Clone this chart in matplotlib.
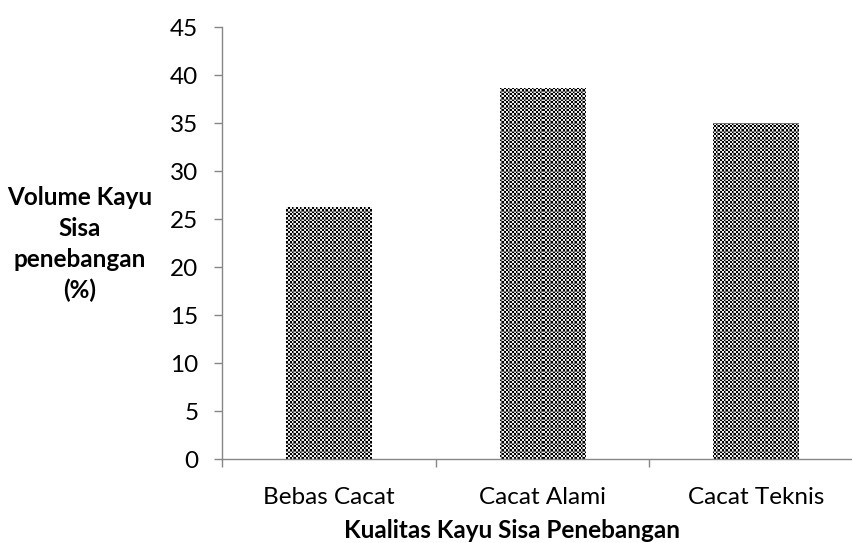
import numpy as np
import matplotlib
matplotlib.use("Agg")
import matplotlib.pyplot as plt

categories = ["Bebas Cacat", "Cacat Alami", "Cacat Teknis"]
volumes = [26.2, 38.6, 35.0]
y_ticks = [0, 5, 10, 15, 20, 25, 30, 35, 40, 45]

plt.rcParams['font.family'] = ['Lato', 'DejaVu Sans']

W, H = 852, 543
fig = plt.figure(figsize=(W / 100, H / 100), dpi=100)
left, bottom, top = 222 / W, (H - 459) / H, (H - 27) / H
ax_w = 640.5 / W
ax = fig.add_axes([left, bottom, ax_w, top - bottom])

x = np.arange(len(categories))
bars = ax.bar(x, volumes, width=0.4, facecolor='none', edgecolor='none')

# fine dithered checkerboard fill for the bars
nx, ny = 641, 432
rows = np.arange(ny)[:, None]
cols = np.arange(nx)[None, :]
pat = ((rows // 2 + cols // 2) % 2).astype(float) * 0.92
pat[np.arange(ny) % 8 == 7, :] = 0.45
pat[:, np.arange(nx) % 8 == 7] = 0.45
for b in bars:
    im = ax.imshow(pat, cmap='gray', vmin=0, vmax=1, interpolation='nearest',
                   extent=(-0.5, len(categories) - 0.5, 0, 45), aspect='auto',
                   origin='lower', zorder=2)
    im.set_clip_path(b)

ax.set_xlim(-0.5, len(categories) - 0.5)
ax.set_ylim(0, 45)

for s in ['top', 'right']:
    ax.spines[s].set_visible(False)
for s in ['left', 'bottom']:
    ax.spines[s].set_color('#878787')
    ax.spines[s].set_linewidth(1.0)

ax.set_yticks(y_ticks)
ax.set_yticklabels([str(v) for v in y_ticks])
ax.tick_params(axis='y', direction='out', length=6, width=1.0, color='#878787',
               pad=11, labelsize=17.5, labelcolor='black')

ax.set_xticks(np.arange(len(categories) + 1) - 0.5)
ax.set_xticklabels([])
ax.tick_params(axis='x', which='major', direction='out', length=6, width=1.0,
               color='#878787')
ax.set_xticks(x, minor=True)
ax.set_xticklabels(categories, minor=True)
ax.tick_params(axis='x', which='minor', length=0, pad=20, labelsize=17.5,
               labelcolor='black')

fig.text(512 / W, 1 - 530 / H, "Kualitas Kayu Sisa Penebangan", ha='center',
         va='center', fontsize=17.5, fontweight='bold')
fig.text(80 / W, 1 - 244 / H, "Volume Kayu\nSisa\npenebangan\n(%)", ha='center',
         va='center', fontsize=17.5, fontweight='bold', linespacing=1.42)

fig.savefig("out.png", dpi=100)
